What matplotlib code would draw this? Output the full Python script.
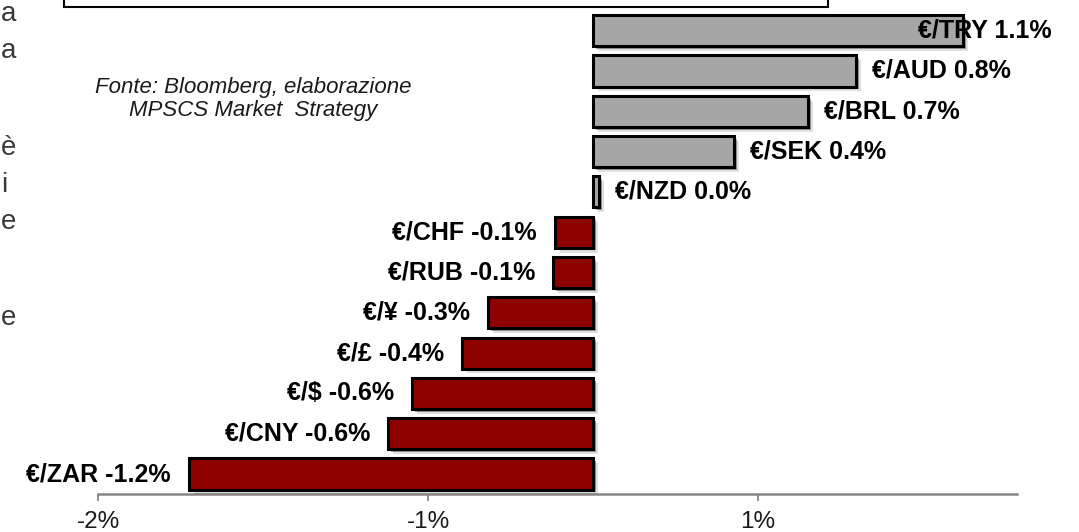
import matplotlib
matplotlib.use("Agg")
import matplotlib.pyplot as plt
from matplotlib import patheffects as pe
from matplotlib.patches import Rectangle

# ---- data (bottom to top) ----
pairs = ["€/ZAR", "€/CNY", "€/$", "€/£", "€/¥", "€/RUB", "€/CHF",
         "€/NZD", "€/SEK", "€/BRL", "€/AUD", "€/TRY"]
values = [-1.224, -0.621, -0.548, -0.397, -0.318, -0.121, -0.115,
          0.018, 0.427, 0.652, 0.797, 1.121]
value_labels = ["-1.2%", "-0.6%", "-0.6%", "-0.4%", "-0.3%", "-0.1%", "-0.1%",
                "0.0%", "0.4%", "0.7%", "0.8%", "1.1%"]
tick_positions = [-1.5, -0.5, 0.5]
tick_labels = ["-2%", "-1%", "1%"]
source_text = "Fonte: Bloomberg, elaborazione\nMPSCS Market  Strategy"
side_letters = ["a", "a", "è", "i", "e", "e"]
side_letter_y = [14, 51, 148, 185, 222, 318]   # pixel rows of cropped text

plt.rcParams["font.family"] = ["Liberation Sans", "DejaVu Sans"]

W, H = 1079, 532
fig = plt.figure(figsize=(W / 100, H / 100), dpi=100)
axis_px = 494
ax = fig.add_axes([0, (H - axis_px) / H, 1, axis_px / H])

px_per_unit = 330.0
zero_px = 593.0
ax.set_xlim(-zero_px / px_per_unit, (W - zero_px) / px_per_unit)
step = 40.3
first_center = 474.0
ax.set_ylim(-(axis_px - first_center) / step, first_center / step)

pos_color = "#A6A6A6"
neg_color = "#8E0000"
ypos = list(range(len(values)))
colors = [pos_color if v >= 0 else neg_color for v in values]
bars = ax.barh(ypos, values, height=0.77, color=colors, edgecolor="black",
               linewidth=2.2, zorder=3)
for b in bars:
    b.set_path_effects([
        pe.SimplePatchShadow(offset=(3.5, -3.5), shadow_rgbFace="black", alpha=0.12),
        pe.SimplePatchShadow(offset=(2, -2), shadow_rgbFace="black", alpha=0.35),
        pe.Normal(),
    ])

fig.canvas.draw()
renderer = fig.canvas.get_renderer()
right_limit = (1052 - zero_px) / px_per_unit
label_size = 18
for y, v, name, lab in zip(ypos, values, pairs, value_labels):
    txt = f"{name} {lab}"
    if v >= 0:
        t = ax.text(v + 16 / px_per_unit, y, txt, ha="left", va="center",
                    fontsize=label_size, fontweight="bold", color="black", zorder=5)
        bb = t.get_window_extent(renderer)
        inv = ax.transData.inverted()
        right_data = inv.transform((bb.x1, bb.y0))[0]
        if right_data > right_limit:
            t.set_x(right_limit)
            t.set_ha("right")
    else:
        ax.text(v - 18 / px_per_unit, y, txt, ha="right", va="center",
                fontsize=label_size, fontweight="bold", color="black", zorder=5)

for s in ["top", "right", "left"]:
    ax.spines[s].set_visible(False)
ax.spines["bottom"].set_color("#868686")
ax.spines["bottom"].set_linewidth(1.8)
ax.spines["bottom"].set_bounds(tick_positions[0], (1017 - zero_px) / px_per_unit)
ax.set_yticks([])
ax.set_xticks(tick_positions)
ax.set_xticklabels(tick_labels)
ax.tick_params(axis="x", direction="out", length=5, width=1.3, color="#868686",
               labelsize=17.5, labelcolor="#1a1a1a", pad=7)
ax.patch.set_alpha(0)

# source note
fig.text(253 / W, 1 - 99 / H, source_text, ha="center", va="center",
         fontsize=16, style="italic", color="#1a1a1a", linespacing=1.1)

# cropped text from neighbouring column
for ch, yy in zip(side_letters, side_letter_y):
    fig.text(1 / W, 1 - yy / H, ch, ha="left", va="center", fontsize=20,
             color="#3a3a3a")

# box partially cut at top
box = Rectangle((64 / W, 1 - 7 / H), (828 - 64) / W, 0.1, transform=fig.transFigure,
                facecolor="white", edgecolor="black", linewidth=1.5, zorder=1)
fig.add_artist(box)

fig.savefig("out.png", dpi=100)
